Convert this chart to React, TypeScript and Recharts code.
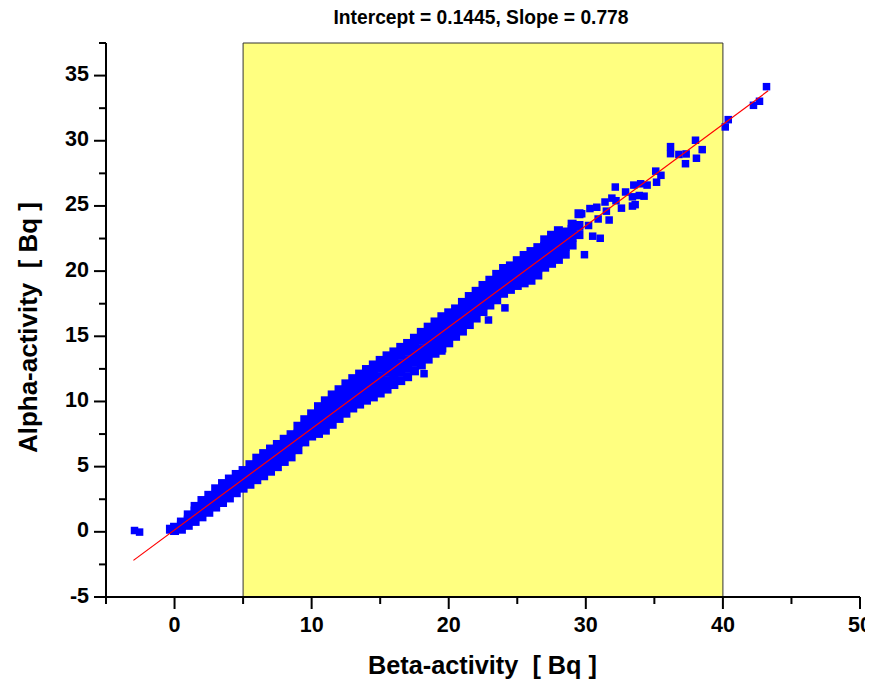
import React from 'react';
import { ScatterChart, Scatter, XAxis, YAxis, ReferenceArea } from 'recharts';

const title = 'Intercept = 0.1445, Slope = 0.778';
const xTitle = 'Beta-activity\u00a0\u00a0[ Bq ]';
const yTitle = 'Alpha-activity\u00a0\u00a0[ Bq ]';

const intercept = 0.1445;
const slope = 0.778;
const fitBeta = [-3, 43.3];

const xTicks = [-5, 0, 5, 10, 15, 20, 25, 30, 35, 40, 45, 50];
const yTicks = [-5, -2.5, 0, 2.5, 5, 7.5, 10, 12.5, 15, 17.5, 20, 22.5, 25, 27.5, 30, 32.5, 35, 37.5];

// dense band, one column of alpha values per beta value
const bandBeta = [
  -0.3, 0, 0.5, 1, 1.5, 2, 2.5, 3, 3.5, 4, 4.5, 5, 5.5, 6, 6.5, 7, 7.5, 8, 8.5, 9, 9.5, 10,
  10.5, 11, 11.5, 12, 12.5, 13, 13.5, 14, 14.5, 15, 15.5, 16, 16.5, 17, 17.5, 18, 18.5, 19,
  19.5, 20, 20.5, 21, 21.5, 22, 22.5, 23, 23.5, 24, 24.5, 25, 25.5, 26, 26.5, 27, 27.5, 28,
  28.5, 29, 29.5,
];
const bandAlpha = [
  [0.2],
  [0.1, 0.35],
  [0.2, 0.5, 0.75],
  [0.5, 0.9, 1.3],
  [0.8, 1.2, 1.6, 1.95],
  [1.15, 1.55, 1.95, 2.4],
  [1.5, 1.95, 2.4, 2.8],
  [1.9, 2.35, 2.8, 3.3],
  [2.25, 2.7, 3.2, 3.7],
  [2.6, 3.05, 3.55, 4.05],
  [3.0, 3.45, 3.95, 4.4],
  [3.35, 3.8, 4.25, 4.7],
  [3.65, 4.15, 4.65, 5.15],
  [4.0, 4.5, 5.1, 5.65],
  [4.3, 4.85, 5.45, 6.0],
  [4.65, 5.2, 5.8, 6.35],
  [5.0, 5.55, 6.15, 6.7],
  [5.4, 5.95, 6.55, 7.1],
  [5.75, 6.3, 6.9, 7.45],
  [6.3, 6.85, 7.5, 8.1],
  [6.9, 7.45, 8.05, 8.6],
  [7.35, 7.9, 8.5, 9.05],
  [7.55, 8.1, 8.6, 9.1, 9.6],
  [7.8, 8.35, 8.9, 9.5, 10.05],
  [8.25, 8.8, 9.35, 9.95, 10.5],
  [8.7, 9.25, 9.8, 10.35, 10.9],
  [9.1, 9.65, 10.2, 10.8, 11.35],
  [9.5, 10.05, 10.6, 11.2, 11.75],
  [9.8, 10.4, 10.95, 11.55, 12.1],
  [10.1, 10.7, 11.3, 11.9, 12.45],
  [10.35, 10.95, 11.6, 12.2, 12.8],
  [10.65, 11.3, 11.9, 12.55, 13.15],
  [10.95, 11.6, 12.25, 12.9, 13.5],
  [11.3, 11.95, 12.55, 13.2, 13.8],
  [11.6, 12.25, 12.9, 13.55, 14.15],
  [11.9, 12.55, 13.2, 13.85, 14.45],
  [12.35, 13.0, 13.6, 14.25, 14.85],
  [12.8, 13.4, 14.05, 14.7, 15.3],
  [13.25, 13.85, 14.5, 15.1, 15.7],
  [13.7, 14.3, 14.9, 15.5, 16.1],
  [14.1, 14.7, 15.3, 15.9, 16.5],
  [14.5, 15.1, 15.65, 16.25, 16.8],
  [15.0, 15.55, 16.05, 16.6, 17.1],
  [15.4, 15.95, 16.5, 17.05, 17.6],
  [15.9, 16.45, 17.0, 17.5, 18.05],
  [16.4, 16.9, 17.45, 17.95, 18.45],
  [16.9, 17.4, 17.9, 18.4, 18.9],
  [17.4, 17.85, 18.35, 18.8, 19.3],
  [17.8, 18.3, 18.8, 19.25, 19.75],
  [18.3, 18.75, 19.25, 19.7, 20.2],
  [18.6, 19.05, 19.5, 19.95, 20.4],
  [18.9, 19.4, 19.9, 20.35, 20.8],
  [19.1, 19.6, 20.15, 20.7, 21.2],
  [19.3, 19.85, 20.4, 20.95, 21.5],
  [19.7, 20.25, 20.8, 21.3, 21.8],
  [20.3, 20.8, 21.35, 21.9, 22.4],
  [20.6, 21.15, 21.7, 22.25, 22.75],
  [20.9, 21.5, 22.1, 22.6, 23.1],
  [21.3, 21.9, 22.5, 23.0],
  [22.0, 22.6, 23.2, 23.6],
  [22.8, 23.5, 24.4],
];

// isolated and sparse points
const sparseBeta = [
  -2.92, -2.55, 18.2, 19.5, 22.9, 24.1, 29.9, 30.5, 31.05, 29.7, 30.3, 30.8, 31.4, 31.7,
  32.15, 32.9, 33.5, 33.4, 33.4, 30.2, 30.9, 31.5, 32.2, 32.6, 33.9, 34.25, 34.47, 31.9,
  34.0, 33.6, 35.1, 35.48, 35.16, 36.18, 36.18, 36.79, 37.32, 37.27, 38.0, 38.49, 38.07,
  40.17, 40.39, 42.23, 42.67, 43.18,
];
const sparseAlpha = [
  0.1, -0.02, 12.13, 13.87, 16.25, 17.18, 21.26, 22.68, 22.52, 24.4, 24.8, 24.9, 25.3, 23.92,
  26.45, 26.07, 26.6, 24.99, 25.7, 23.5, 24.0, 24.6, 25.4, 24.83, 25.8, 25.75, 26.6, 25.6,
  26.7, 25.1, 27.67, 27.35, 26.82, 29.55, 29.01, 28.95, 28.99, 28.24, 30.04, 29.32, 28.66,
  31.06, 31.62, 32.72, 33.03, 34.15,
];

const bandPoints = bandBeta.flatMap((b, i) => bandAlpha[i].map((a) => ({ beta: b, alpha: a })));
const sparsePoints = sparseBeta.map((b, i) => ({ beta: b, alpha: sparseAlpha[i] }));

// linear fit from the title's intercept and slope
const fitPoints = fitBeta.map((b) => ({ beta: b, alpha: intercept + slope * b }));

const FONT = '"Liberation Sans", Arial, sans-serif';

const squareShape = (side: number) => (props: any) => (
  <rect x={props.cx - side / 2} y={props.cy - side / 2} width={side} height={side} fill="#0000ff" />
);

function XTick({ x, y, payload }: any) {
  const major = payload.value % 10 === 0;
  return (
    <g>
      <line x1={x} y1={y} x2={x} y2={y + (major ? 12 : 7)} stroke="#000" strokeWidth={2} />
      {major && (
        <text x={x} y={y + 35} textAnchor="middle" fontFamily={FONT} fontWeight="bold" fontSize={21.5} fill="#000">
          {payload.value}
        </text>
      )}
    </g>
  );
}

function YTick({ x, y, payload }: any) {
  const major = payload.value % 5 === 0;
  return (
    <g>
      <line x1={x} y1={y} x2={x - (major ? 12 : 7)} y2={y} stroke="#000" strokeWidth={2} />
      {major && (
        <text x={x - 17} y={y + 5.5} textAnchor="end" fontFamily={FONT} fontWeight="bold" fontSize={21.5} fill="#000">
          {payload.value}
        </text>
      )}
    </g>
  );
}

export default function App() {
  return (
    <div style={{ position: 'relative', width: 865, height: 676 }}>
      <ScatterChart width={865} height={676} margin={{ top: 35, right: 13, bottom: 8, left: 0 }} style={{ overflow: 'visible' }}>
        <XAxis
          type="number"
          dataKey="beta"
          domain={[-5, 50]}
          ticks={xTicks}
          interval={0}
          allowDataOverflow
          height={79}
          axisLine={{ stroke: '#000', strokeWidth: 2 }}
          tickLine={false}
          tickSize={0}
          tickMargin={0}
          tick={<XTick />}
        />
        <YAxis
          type="number"
          dataKey="alpha"
          domain={[-5, 37.5]}
          ticks={yTicks}
          interval={0}
          allowDataOverflow
          width={98}
          axisLine={{ stroke: '#000', strokeWidth: 2 }}
          tickLine={false}
          tickSize={0}
          tickMargin={0}
          tick={<YTick />}
        />
        <ReferenceArea x1={5} x2={40} fill="#ffff80" fillOpacity={1} stroke="#333" strokeWidth={1} />
        <Scatter data={bandPoints} fill="#0000ff" shape={squareShape(9)} isAnimationActive={false} />
        <Scatter data={sparsePoints} fill="#0000ff" shape={squareShape(7.5)} isAnimationActive={false} />
        <Scatter
          data={fitPoints}
          line={{ stroke: '#ff0000', strokeWidth: 1.2 }}
          shape={() => <g />}
          isAnimationActive={false}
        />
      </ScatterChart>
      {/* titles, in page coordinates */}
      <svg width={873} height={684} style={{ position: 'absolute', left: -8, top: -8, pointerEvents: 'none' }}>
        <text x={481} y={24} textAnchor="middle" fontFamily={FONT} fontWeight="bold" fontSize={20} textLength={295} lengthAdjust="spacingAndGlyphs">
          {title}
        </text>
        <text x={482.5} y={674} textAnchor="middle" fontFamily={FONT} fontWeight="bold" fontSize={25} textLength={229} lengthAdjust="spacingAndGlyphs">
          {xTitle}
        </text>
        <text
          x={37}
          y={327.5}
          transform="rotate(-90, 37, 327.5)"
          textAnchor="middle"
          fontFamily={FONT}
          fontWeight="bold"
          fontSize={25}
          textLength={251}
          lengthAdjust="spacingAndGlyphs"
        >
          {yTitle}
        </text>
      </svg>
    </div>
  );
}
